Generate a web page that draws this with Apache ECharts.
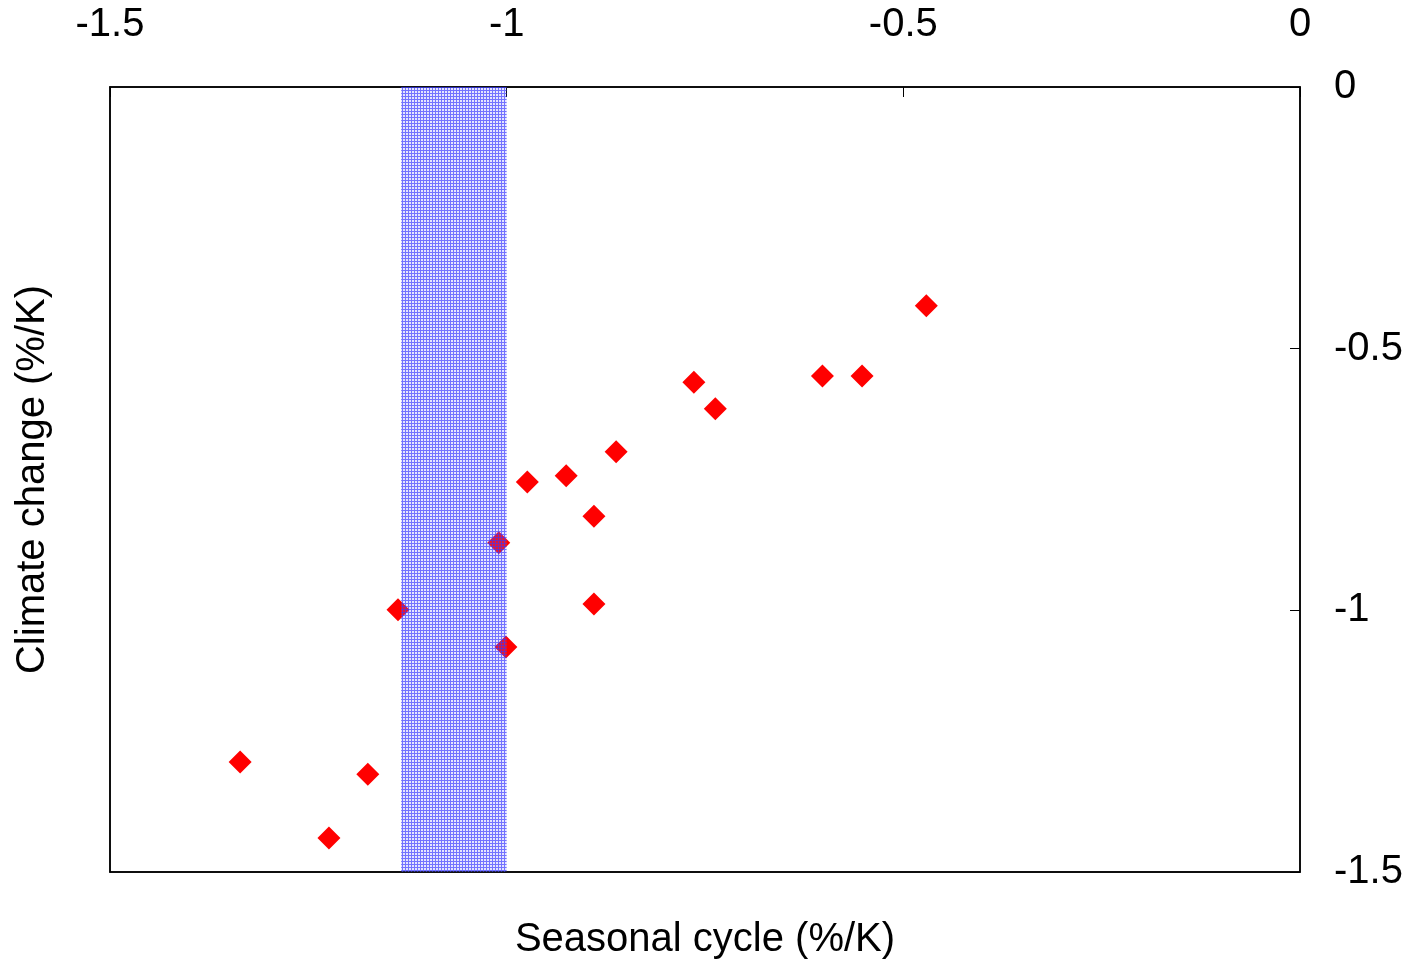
<!DOCTYPE html>
<html>
<head>
<meta charset="utf-8">
<script src="https://cdn.jsdelivr.net/npm/echarts@6/dist/echarts.min.js"></script>
<style>
  html, body { margin: 0; padding: 0; background: #fff; }
  #chart { width: 1409px; height: 963px; }
</style>
</head>
<body>
<div id="chart"></div>
<script>
// seasonal cycle (x) vs climate change (y), %/K
var seasonal = [-1.336, -1.224, -1.175, -1.137, -1.010, -1.001, -0.974, -0.925, -0.890, -0.890, -0.862, -0.764, -0.737, -0.602, -0.552, -0.471];
var climate  = [-1.290, -1.435, -1.313, -0.999, -0.871, -1.070, -0.755, -0.743, -0.820, -0.988, -0.697, -0.564, -0.615, -0.552, -0.552, -0.418];
var band = [-1.133, -1.0];
var xTicks = [-1.5, 0];
var yTicks = [-1.5, 0];

var font = 'Liberation Sans, Arial, sans-serif';

// hatch pattern for the shaded band: see-through cells, blue grid lines
var pat = document.createElement('canvas');
pat.width = 3; pat.height = 3;
var ctx = pat.getContext('2d');
ctx.fillStyle = 'rgba(60,60,255,0.72)';
ctx.fillRect(0, 0, 3, 1);
ctx.fillRect(0, 1, 1, 2);
ctx.fillStyle = 'rgba(120,120,255,0.2)';
ctx.fillRect(1, 1, 2, 2);

var pts = seasonal.map(function (x, i) { return [x, climate[i]]; });

var chart = echarts.init(document.getElementById('chart'));
chart.setOption({
  animation: false,
  grid: { left: 110, right: 109, top: 87, bottom: 91, outerBoundsMode: 'none', containLabel: false,
    show: true, borderColor: '#000', borderWidth: 1.5, backgroundColor: '#fff' },
  xAxis: [
    {
      type: 'value', position: 'top', min: xTicks[0], max: xTicks[1], interval: 0.5,
      splitLine: { show: false },
      axisLine: { show: true, onZero: false, lineStyle: { color: '#000', width: 1.5 } },
      axisTick: { show: true, inside: true, length: 10, lineStyle: { color: '#000' } },
      axisLabel: { fontSize: 40, color: '#000', fontFamily: font, margin: 42 }
    },
    {
      type: 'value', position: 'bottom', min: xTicks[0], max: xTicks[1],
      name: 'Seasonal cycle (%/K)', nameLocation: 'middle', nameGap: 48,
      nameTextStyle: { fontSize: 40, color: '#000', fontFamily: font },
      splitLine: { show: false }, axisTick: { show: false }, axisLabel: { show: false },
      axisLine: { show: true, onZero: false, lineStyle: { color: '#000', width: 1.5 } }
    }
  ],
  yAxis: [
    {
      type: 'value', position: 'right', min: yTicks[0], max: yTicks[1], interval: 0.5,
      splitLine: { show: false },
      axisLine: { show: true, onZero: false, lineStyle: { color: '#000', width: 1.5 } },
      axisTick: { show: true, inside: true, length: 10, lineStyle: { color: '#000' } },
      axisLabel: { fontSize: 40, color: '#000', fontFamily: font, margin: 34 }
    },
    {
      type: 'value', position: 'left', min: yTicks[0], max: yTicks[1],
      name: 'Climate change (%/K)', nameLocation: 'middle', nameGap: 57,
      nameTextStyle: { fontSize: 40, color: '#000', fontFamily: font },
      splitLine: { show: false }, axisTick: { show: false }, axisLabel: { show: false },
      axisLine: { show: true, onZero: false, lineStyle: { color: '#000', width: 1.5 } }
    }
  ],
  series: [
    {
      type: 'scatter', xAxisIndex: 0, yAxisIndex: 0, z: 2,
      symbol: 'diamond', symbolSize: [23, 23],
      itemStyle: { color: '#ff0000', opacity: 1 },
      data: pts
    },
    {
      type: 'scatter', xAxisIndex: 0, yAxisIndex: 0, z: 5, data: [], silent: true,
      markArea: {
        silent: true, z: 10,
        itemStyle: { color: { image: pat, repeat: 'repeat' } },
        data: [[{ xAxis: band[0] }, { xAxis: band[1] }]]
      }
    }
  ]
});
</script>
</body>
</html>
